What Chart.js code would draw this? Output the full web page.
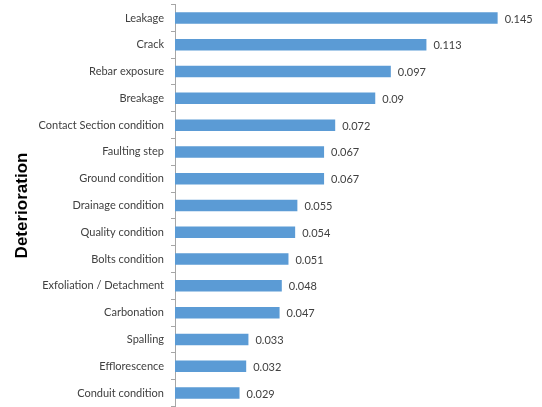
<!DOCTYPE html>
<html>
<head>
<meta charset="utf-8">
<script src="https://cdn.jsdelivr.net/npm/chart.js@4"></script>
<style>
html,body{margin:0;padding:0;background:#fff;}
#wrap{width:542px;height:407px;position:relative;}
</style>
</head>
<body>
<div id="wrap"><canvas id="c" width="542" height="407"></canvas></div>
<script>
const categories = ["Leakage","Crack","Rebar exposure","Breakage","Contact Section condition","Faulting step","Ground condition","Drainage condition","Quality condition","Bolts condition","Exfoliation / Detachment","Carbonation","Spalling","Efflorescence","Conduit condition"];
const values = [0.145,0.113,0.097,0.09,0.072,0.067,0.067,0.055,0.054,0.051,0.048,0.047,0.033,0.032,0.029];
const valueLabels = ["0.145","0.113","0.097","0.09","0.072","0.067","0.067","0.055","0.054","0.051","0.048","0.047","0.033","0.032","0.029"];
const axisTitle = "Deterioration";

const labelFont = "Lato";

const dataLabelPlugin = {
  id: 'dataLabels',
  afterDatasetsDraw(chart) {
    const ctx = chart.ctx;
    const meta = chart.getDatasetMeta(0);
    ctx.save();
    ctx.font = "11px " + labelFont;
    ctx.fillStyle = "#404040";
    ctx.textAlign = "left";
    ctx.textBaseline = "middle";
    meta.data.forEach((bar, i) => {
      ctx.fillText(valueLabels[i], bar.x + 7, bar.y + 1);
    });
    ctx.restore();
  }
};

new Chart(document.getElementById('c'), {
  type: 'bar',
  data: {
    labels: categories,
    datasets: [{
      data: values,
      backgroundColor: '#5b9bd5',
      borderWidth: 0,
      barPercentage: 0.43,
      categoryPercentage: 1.0
    }]
  },
  options: {
    indexAxis: 'y',
    responsive: false,
    animation: false,
    devicePixelRatio: 1,
    layout: { padding: { top: 4.6, right: 11, bottom: 0.6, left: 0 } },
    plugins: { legend: { display: false }, tooltip: { enabled: false } },
    scales: {
      x: {
        display: false,
        min: 0,
        max: 0.16
      },
      y: {
        afterFit(scale) { scale.width = 175; scale.paddingTop = 0; scale.paddingBottom = 0; },
        border: { display: true, color: '#a6a6a6', width: 1 },
        grid: { display: true, drawOnChartArea: false, drawTicks: true, tickLength: 4, color: '#a6a6a6', offset: true },
        ticks: { color: '#404040', font: { family: labelFont, size: 11 }, padding: 7 },
        title: {
          display: true,
          text: axisTitle,
          color: '#000000',
          font: { family: 'Liberation Sans', size: 17, weight: 'bold' },
          padding: { top: 12, bottom: 0 }
        }
      }
    }
  },
  plugins: [dataLabelPlugin]
});
</script>
</body>
</html>
